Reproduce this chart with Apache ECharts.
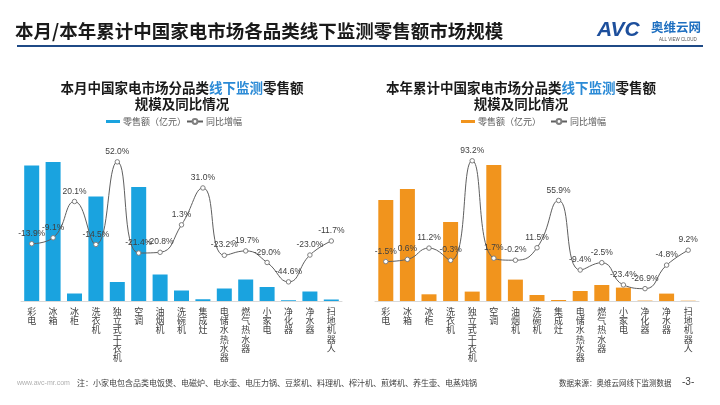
<!DOCTYPE html>
<html><head><meta charset="utf-8">
<script src="https://cdn.jsdelivr.net/npm/echarts@6/dist/echarts.min.js"></script>
<style>html,body{margin:0;padding:0;background:#fff}#c{width:720px;height:405px}</style>
</head><body><div id="c"></div>
<script>
var categories = ['彩电','冰箱','冰柜','洗衣机','独立式干衣机','空调','油烟机','洗碗机','集成灶','电储水热水器','燃气热水器','小家电','净化器','净水器','扫地机器人'];
var monthSales = [27.1, 27.8, 1.5, 20.9, 3.8, 22.8, 5.3, 2.1, 0.35, 2.5, 4.3, 2.8, 0.15, 1.9, 0.3];
var monthYoY = [-13.9, -9.1, 20.1, -14.5, 52.0, -21.4, -20.8, 1.3, 31.0, -23.2, -19.7, -29.0, -44.6, -23.0, -11.7];
var ytdSales = [101, 112, 6.7, 79, 9.4, 136, 21.4, 6.0, 1.0, 10.0, 16.0, 13.4, 0.4, 7.4, 0.3];
var ytdYoY = [-1.5, 0.6, 11.2, -0.3, 93.2, 1.7, -0.2, 11.5, 55.9, -9.4, -2.5, -23.4, -26.9, -4.8, 9.2];

var FONT = '"Noto Sans CJK SC","Noto Sans",sans-serif';
var chart = echarts.init(document.getElementById('c'));

function xAxis(gi){
  return {type:'category', gridIndex:gi, data:categories,
    axisLine:{lineStyle:{color:'#d9d9d9'}}, axisTick:{show:false},
    axisLabel:{interval:0, fontSize:9, lineHeight:9.2, color:'#404040', margin:6, fontFamily:FONT,
      formatter:function(v){return v.split('').join('\n');}}};
}
function yAxis(gi,min,max){
  return {type:'value', gridIndex:gi, min:min, max:max, show:false, splitLine:{show:false}};
}
function lineSeries(name, xi, yi, data){
  return {name:name, type:'line', xAxisIndex:xi, yAxisIndex:yi, data:data, smooth:0.5, z:5,
    symbol:'circle', symbolSize:4.5,
    lineStyle:{color:'#5f5f5f', width:1},
    itemStyle:{color:'#ffffff', borderColor:'#7f7f7f', borderWidth:1},
    label:{show:true, position:'top', distance:3, fontSize:8.5, color:'#404040', fontFamily:'"Liberation Sans",sans-serif',
      formatter:function(p){return p.value.toFixed(1)+'%';}}};
}
function barSeries(name, xi, yi, data, color){
  return {name:name, type:'bar', xAxisIndex:xi, yAxisIndex:yi, data:data, barWidth:15, z:2,
    itemStyle:{color:color}};
}
function legendPair(barName, lineName, x1, x2){
  return [
    {data:[barName], left:x1, top:112, itemWidth:14, itemHeight:3, itemGap:4, icon:'rect', selectedMode:false,
      textStyle:{fontSize:9, color:'#595959', fontFamily:FONT, padding:[0,0,0,-2]},
      formatter:function(n){return n.slice(1);}},
    {data:[lineName], left:x2, top:112, itemWidth:16, itemHeight:6, selectedMode:false,
      textStyle:{fontSize:9, color:'#595959', fontFamily:FONT, padding:[0,0,0,-2]},
      formatter:function(n){return n.slice(1);}}
  ];
}

var option = {
  backgroundColor:'#ffffff',
  animation:false,
  grid:[
    {left:21, width:321, top:140, height:161},
    {left:375, width:324, top:140, height:161}
  ],
  xAxis:[xAxis(0), xAxis(1)],
  yAxis:[yAxis(0,0,32.2), yAxis(0,-60,69.6), yAxis(1,0,161), yAxis(1,-38.5,112.7)],
  legend: legendPair('L零售额（亿元）','L同比增幅',101,181).concat(legendPair('R零售额（亿元）','R同比增幅',456,545)),
  series:[
    barSeries('L零售额（亿元）',0,0,monthSales,'#1aa3df'),
    lineSeries('L同比增幅',0,1,monthYoY),
    barSeries('R零售额（亿元）',1,2,ytdSales,'#f1941d'),
    lineSeries('R同比增幅',1,3,ytdYoY)
  ],
  graphic:[
    {type:'text', left:15, top:22, style:{text:'本月/本年累计中国家电市场各品类线下监测零售额市场规模', font:'bold 18.5px '+FONT, fill:'#1a1a1a'}},
    {type:'rect', shape:{x:17, y:45, width:686, height:2}, style:{fill:'#1f4a86'}},
    {type:'text', left:597, top:20, style:{text:'AVC', font:'italic 900 21px "Liberation Sans",sans-serif', fill:'#1d4f9c'}},
    {type:'text', left:651, top:21, style:{text:'奥维云网', font:'bold 12.5px '+FONT, fill:'#1e6fc0'}},
    {type:'text', left:659, top:37, style:{text:'ALL VIEW CLOUD', font:'4.5px "Liberation Sans",sans-serif', fill:'#555'}},
    {type:'text', x:182, y:88, style:{text:'{a|本月中国家电市场分品类}{b|线下监测}{a|零售额}', textAlign:'center', textVerticalAlign:'middle',
      rich:{a:{font:'bold 13.5px '+FONT, fill:'#1a1a1a'}, b:{font:'bold 13.5px '+FONT, fill:'#2a8ad6'}}}},
    {type:'text', x:182, y:104, style:{text:'规模及同比情况', textAlign:'center', textVerticalAlign:'middle', font:'bold 13.5px '+FONT, fill:'#1a1a1a'}},
    {type:'text', x:521, y:88, style:{text:'{a|本年累计中国家电市场分品类}{b|线下监测}{a|零售额}', textAlign:'center', textVerticalAlign:'middle',
      rich:{a:{font:'bold 13.5px '+FONT, fill:'#1a1a1a'}, b:{font:'bold 13.5px '+FONT, fill:'#2a8ad6'}}}},
    {type:'text', x:521, y:104, style:{text:'规模及同比情况', textAlign:'center', textVerticalAlign:'middle', font:'bold 13.5px '+FONT, fill:'#1a1a1a'}},
    {type:'text', left:17, top:380, style:{text:'www.avc-mr.com', font:'7px "Liberation Sans",sans-serif', fill:'#b0b0b0'}},
    {type:'text', left:77, top:379, style:{text:'注：小家电包含品类电饭煲、电磁炉、电水壶、电压力锅、豆浆机、料理机、榨汁机、煎烤机、养生壶、电蒸炖锅', font:'8px '+FONT, fill:'#404040'}},
    {type:'text', left:559, top:379, style:{text:'数据来源：奥维云网线下监测数据', font:'7.5px '+FONT, fill:'#404040'}},
    {type:'text', left:682, top:377, style:{text:'-3-', font:'10px "Liberation Sans",sans-serif', fill:'#404040'}}
  ]
};
chart.setOption(option);
</script></body></html>
